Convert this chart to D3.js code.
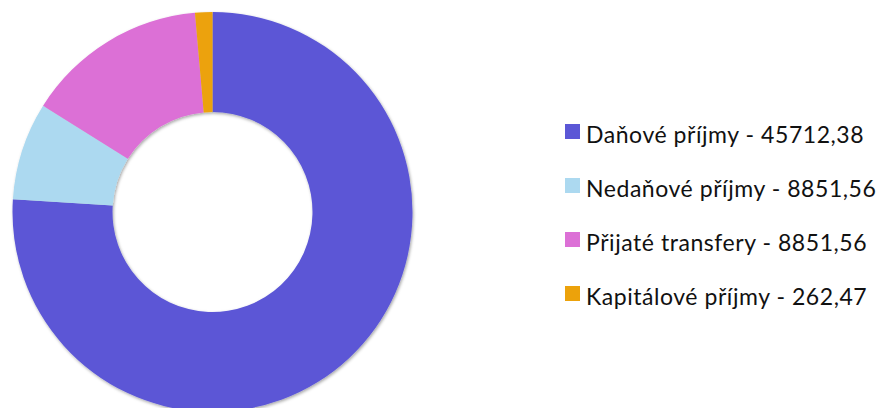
<!DOCTYPE html>
<html>
<head>
<meta charset="utf-8">
<script src="https://cdn.jsdelivr.net/npm/d3@7"></script>
<style>
    html, body { margin: 0; padding: 0; background: #fff; }
    svg { display: block; }
</style>
</head>
<body>
<div id="donut"></div>
<script>
// categories and legend values (as printed)
var categories = ["Daňové příjmy", "Nedaňové příjmy", "Přijaté transfery", "Kapitálové příjmy"];
var legendValues = ["45712,38", "8851,56", "8851,56", "262,47"];
// slice shares (percent)
var sliceShares = [76.1, 7.9, 14.7, 1.4];
var colors = ["#5b57d6", "#acd9f0", "#dc70d6", "#eca20b"];

(function () {
    "use strict";

    var vWidth = 882, vHeight = 408;
    var vCx = 212.5, vCy = 212, vOuter = 200, vInner = 100;

    var svg = d3.select("#donut")
        .append("svg")
        .attr("width", vWidth)
        .attr("height", vHeight);

    // soft shadow round the ring
    var defs = svg.append("defs");
    var filter = defs.append("filter")
        .attr("id", "shadow")
        .attr("x", "-10%").attr("y", "-10%")
        .attr("width", "120%").attr("height", "120%");
    filter.append("feDropShadow")
        .attr("dx", 1).attr("dy", 1.5)
        .attr("stdDeviation", 1.5)
        .attr("flood-color", "#000")
        .attr("flood-opacity", 0.35);

    var vData = categories.map(function (aName, i) {
        return { name: aName, share: sliceShares[i], color: colors[i], label: legendValues[i] };
    });

    var pie = d3.pie()
        .sort(null)
        .value(function (d) { return d.share; });

    var arc = d3.arc()
        .innerRadius(vInner)
        .outerRadius(vOuter);

    var g = svg.append("g")
        .attr("transform", "translate(" + vCx + "," + vCy + ")")
        .attr("filter", "url(#shadow)");

    g.selectAll("path")
        .data(pie(vData))
        .enter()
        .append("path")
        .attr("d", arc)
        .attr("fill", function (d) { return d.data.color; });

    // legend
    var vRow = d3.scaleBand()
        .domain(categories)
        .range([104, 320]);

    var legend = svg.append("g")
        .selectAll("g")
        .data(vData)
        .enter()
        .append("g")
        .attr("transform", function (d) {
            return "translate(565," + vRow(d.name) + ")";
        });

    legend.append("rect")
        .attr("x", 0)
        .attr("y", 20)
        .attr("width", 15)
        .attr("height", 15)
        .attr("fill", function (d) { return d.color; });

    legend.append("text")
        .attr("x", 21)
        .attr("y", 38.5)
        .style("font-family", "Lato, sans-serif")
        .style("font-size", "23px")
        .style("letter-spacing", "0.55px")
        .style("fill", "#111")
        .text(function (d) { return d.name + " - " + d.label; });
})();
</script>
</body>
</html>
